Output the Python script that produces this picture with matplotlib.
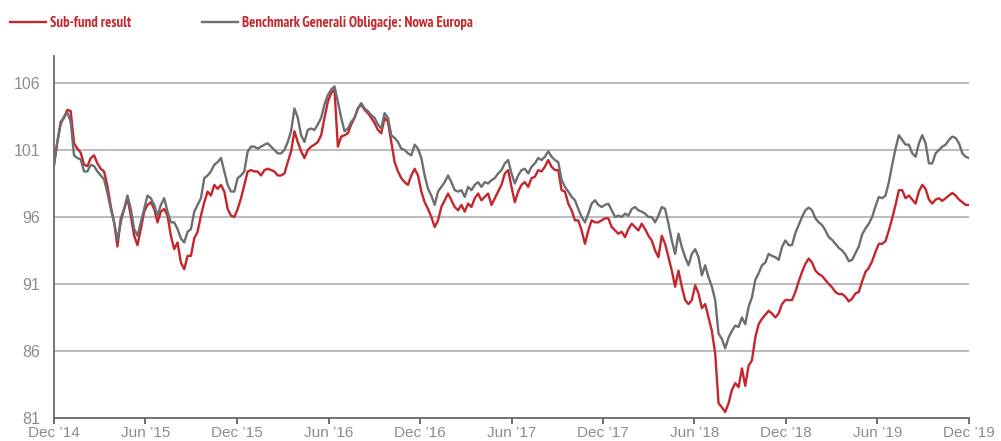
import matplotlib
matplotlib.use("Agg")
import matplotlib.pyplot as plt
import matplotlib.dates as mdates
from matplotlib import font_manager as fm
import pandas as pd

# values, evenly spaced from Dec 2014 to Dec 2019
fund = [
    99.9, 101.6, 103.1, 103.4, 104.0, 103.9, 101.5, 101.1, 100.8, 99.9,
    99.8, 100.4, 100.6, 100.0, 99.6, 99.4, 98.3, 96.8, 95.6, 93.8,
    95.9, 96.6, 97.4, 96.1, 94.6, 93.9, 95.1, 96.4, 96.9, 97.1,
    96.6, 95.6, 96.4, 96.6, 96.1, 94.6, 93.6, 94.1, 92.6, 92.1,
    93.1, 93.1, 94.4, 94.9, 96.1, 97.1, 97.9, 97.6, 98.4, 98.1,
    98.4, 97.9, 96.6, 96.1, 96.0, 96.6,
    97.4, 98.4, 99.4, 99.5, 99.4, 99.4, 99.1, 99.5, 99.6, 99.5,
    99.4, 99.1, 99.1, 99.25, 100.1, 100.9, 102.4, 101.6, 100.9, 100.4,
    101.0, 101.25, 101.4, 101.6, 102.1, 103.4, 104.6, 105.25, 105.5, 101.25,
    102.0, 102.1, 102.25, 102.9, 103.4, 104.1, 104.4, 104.0, 103.75, 103.4,
    103.0, 102.5, 102.25, 103.4, 103.1, 101.6, 100.1, 99.4, 98.9, 98.6,
    98.4, 99.1, 99.6, 99.1, 97.9, 97.1,
    96.6, 96.0, 95.25, 95.75, 96.75, 97.25, 97.75, 97.25, 96.75, 96.5,
    96.9, 96.4, 97.0, 96.75, 97.4, 97.75, 97.25, 97.5, 97.75, 96.9,
    97.4, 97.9, 98.4, 99.25, 99.5, 98.25, 97.1, 97.9, 98.4, 98.6,
    98.25, 98.9, 99.0, 99.5, 99.4, 99.75, 100.25, 99.75, 99.5, 99.5,
    98.0, 97.9, 97.0, 96.5, 95.75, 95.75, 95.0, 94.0, 95.0, 95.75,
    95.6, 95.6, 95.75, 95.9, 95.9,
    95.25, 95.0, 94.75, 94.9, 94.5, 95.1, 95.5, 95.25, 95.0, 95.5,
    95.1, 94.6, 94.25, 93.5, 93.0, 94.6, 94.0, 93.0, 92.0, 90.8,
    92.0, 90.8, 89.8, 89.5, 89.8, 90.9, 90.3, 89.2, 89.5, 88.5,
    87.5, 85.8, 82.1, 81.8, 81.45, 82.1, 83.1, 83.6, 83.3, 84.7,
    83.4, 84.9, 85.3, 87.0, 88.0, 88.4, 88.7, 89.0, 88.8, 88.5,
    88.8, 89.5, 89.8, 89.8,
    89.8, 90.4, 91.2, 91.9, 92.5, 92.9, 92.6, 92.0, 91.75, 91.6,
    91.3, 91.0, 90.75, 90.4, 90.25, 90.25, 90.05, 89.7, 89.9, 90.3,
    90.4, 91.2, 91.9, 92.2, 92.7, 93.4, 94.0, 94.0, 94.2, 95.0,
    95.9, 96.9, 98.0, 98.0, 97.4, 97.6, 97.3, 97.0, 97.9, 98.4,
    98.1, 97.3, 97.0, 97.3, 97.4, 97.2, 97.4, 97.6, 97.8, 97.6,
    97.3, 97.1, 96.9, 96.9,
]

benchmark = [
    99.9, 101.6, 102.9, 103.5, 103.8, 103.1, 100.6, 100.4, 100.3, 99.4,
    99.4, 99.9, 99.8, 99.4, 99.1, 98.8, 97.8, 96.6, 95.6, 94.3,
    95.6, 96.6, 97.6, 96.6, 95.1, 94.6, 95.6, 96.6, 97.6, 97.4,
    96.9, 96.1, 96.9, 97.4, 96.4, 95.6, 95.6, 95.1, 94.4, 94.1,
    94.9, 95.1, 96.4, 96.9, 97.4, 98.9, 99.1, 99.4, 99.9, 100.1,
    100.4, 99.4, 98.4, 97.9, 97.9, 98.9,
    99.1, 99.4, 100.9, 101.25, 101.25, 101.1, 101.25, 101.4, 101.5, 101.25,
    101.0, 100.75, 100.75, 101.0, 101.6, 102.4, 104.1, 103.4, 102.1, 101.6,
    102.5, 102.6, 102.5, 102.9, 103.4, 104.4, 105.1, 105.5, 105.75, 104.6,
    103.4, 102.4, 102.6, 103.1, 103.4, 104.1, 104.5, 104.1, 103.9, 103.6,
    103.4, 102.9, 102.6, 103.75, 103.4, 102.1, 101.9, 101.6, 101.1, 101.0,
    100.75, 100.6, 101.4, 101.1, 100.4, 99.1,
    98.1, 97.6, 96.9, 97.9, 98.25, 98.6, 99.1, 98.6, 98.0, 97.9,
    98.0, 97.5, 98.25, 98.0, 98.4, 98.6, 98.25, 98.6, 98.5, 98.75,
    98.9, 99.25, 99.5, 100.0, 100.25, 99.25, 98.5, 99.1, 99.5, 99.6,
    99.25, 99.75, 100.0, 100.4, 100.25, 100.5, 100.9, 100.5, 100.25, 100.1,
    98.75, 98.25, 97.9, 97.5, 97.25, 96.6, 96.0, 95.6, 96.25, 97.0,
    97.25, 96.9, 96.75, 96.9, 97.0,
    96.5, 96.0, 96.1, 96.0, 96.25, 96.1, 96.6, 96.75, 96.5, 96.4,
    96.25, 96.0, 96.0, 95.6, 96.1, 96.75, 96.6, 95.5, 94.25, 93.25,
    94.75, 93.75, 93.0, 92.4, 93.25, 93.6, 93.0, 91.65, 92.4, 91.5,
    90.8, 89.8, 87.3, 86.9, 86.2, 87.0, 87.5, 87.9, 87.8, 88.5,
    88.0, 89.3, 90.0, 91.3, 91.8, 92.4, 92.6, 93.25, 93.1, 93.0,
    92.8, 93.75, 94.25, 93.9,
    93.9, 94.8, 95.4, 96.0, 96.5, 96.7, 96.5, 95.9, 95.6, 95.4,
    95.0, 94.5, 94.3, 94.0, 93.7, 93.5, 93.2, 92.7, 92.8, 93.3,
    93.8, 94.7, 95.15, 95.5, 96.0, 96.8, 97.5, 97.4, 97.6, 98.6,
    99.9, 101.1, 102.1, 101.75, 101.4, 101.4, 100.75, 100.5, 101.5, 102.1,
    101.5, 100.0, 100.0, 100.75, 101.0, 101.25, 101.4, 101.75, 102.0, 101.9,
    101.5, 100.75, 100.5, 100.4,
]

labels = ["Sub-fund result", "Benchmark Generali Obligacje: Nowa Europa"]

start, end = "2014-12-01", "2019-12-01"
dates = pd.date_range(start, end, periods=len(fund))
xticks = pd.date_range(start, end, freq="6MS")
yticks = [81, 86, 91, 96, 101, 106]

red = "#c4262b"
grey = "#6d6e71"

plt.rcParams['font.family'] = ['Liberation Sans', 'DejaVu Sans']


def legend_font():
    # a narrow bold face if one is installed, else plain bold a bit smaller
    found = []
    for f in fm.fontManager.ttflist:
        w = f.weight if isinstance(f.weight, int) else {'bold': 700}.get(f.weight, 400)
        tag = f.name + ' ' + str(f.stretch) + ' ' + f.fname
        if w >= 700 and ('Narrow' in tag or 'ondensed' in tag):
            found.append((0 if 'Narrow' in tag else 1, f.fname))
    if found:
        found.sort()
        return fm.FontProperties(fname=found[0][1], size=10.5)
    return fm.FontProperties(family='Liberation Sans', weight='bold', size=8.5)


fig = plt.figure(figsize=(10.01, 4.41), dpi=100)
ax = fig.add_axes([54 / 1001, 23 / 441, 915 / 1001, 361.8 / 441])

l1, = ax.plot(dates, fund, color=red, lw=1.7, label=labels[0])
l2, = ax.plot(dates, benchmark, color=grey, lw=1.7, label=labels[1])

ax.set_xlim(pd.Timestamp(start), pd.Timestamp(end))
ax.set_ylim(81, 108)
ax.set_yticks(yticks)
ax.set_xticks(xticks)
ax.xaxis.set_major_formatter(mdates.DateFormatter("%b \u2019%y"))

ax.grid(axis='y', color='#a8a8a8', lw=1.1)
ax.set_axisbelow(True)
for s in ['top', 'right']:
    ax.spines[s].set_visible(False)
for s in ['left', 'bottom']:
    ax.spines[s].set_color('#6b6b6b')
    ax.spines[s].set_linewidth(1.3)

ax.tick_params(axis='y', length=0, pad=10, labelsize=11.5, labelcolor='#8c8c8c')
ax.tick_params(axis='x', length=4, width=1.2, color='#555555', pad=2,
               labelsize=11, labelcolor='#8c8c8c')

# one legend per entry so each sits where the original puts it
prop = legend_font()
hl = 36 / (prop.get_size_in_points() * 100 / 72)
legs = []
for line, lab, x0 in [(l1, labels[0], 10), (l2, labels[1], 202)]:
    leg = ax.legend([line], [lab], loc='upper left',
                    bbox_to_anchor=(x0 / 1001, 1 - 16 / 441),
                    bbox_transform=fig.transFigure, frameon=False,
                    handlelength=hl, handletextpad=0.3,
                    borderaxespad=0, borderpad=0, prop=prop)
    for t in leg.get_texts():
        t.set_color(red)
    legs.append(leg)
ax.add_artist(legs[0])

fig.savefig('out.png', dpi=100)
